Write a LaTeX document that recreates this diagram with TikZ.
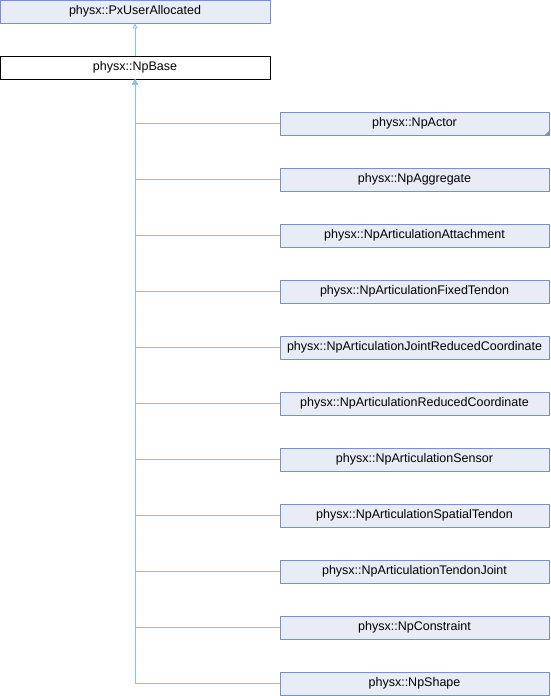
\documentclass[tikz,border=0pt]{standalone}
\usepackage{fontspec}
\setmainfont{Liberation Sans}
\usetikzlibrary{arrows.meta}
\usetikzlibrary{positioning}
\definecolor{clsfill}{HTML}{E8ECF5}
\definecolor{clsdraw}{HTML}{7C90C8}
\definecolor{inhline}{HTML}{88C2EA}

\begin{document}
\begin{tikzpicture}[x=1pt,y=-1pt,
    cls/.style={draw=clsdraw, fill=clsfill, line width=0.9pt, rectangle,
      inner sep=0pt, minimum height=23pt, font=\fontsize{12.5}{14}\selectfont},
    wide/.style={minimum width=270pt},
    child/.style={minimum width=269pt},
    current/.style={draw=black, fill=white},
    inh/.style={draw=inhline, line width=0.9pt,
      -{Triangle[open,length=5pt,width=5pt]}},
  ]
  \useasboundingbox (0,0) rectangle (550,696);

  \node (alloc) [cls,wide] at (135,11.5) {physx::PxUserAllocated};
  \node (base) [cls,wide,current] at (135,67.5) {physx::NpBase};
  \draw[inh] (base.north) -- (alloc.south);

  % derived classes
  \foreach \name [count=\i] in {NpActor,NpAggregate,NpArticulationAttachment,
      NpArticulationFixedTendon,NpArticulationJointReducedCoordinate,
      NpArticulationReducedCoordinate,NpArticulationSensor,
      NpArticulationSpatialTendon,NpArticulationTendonJoint,
      NpConstraint,NpShape} {
    \node (c\i) [cls,child] at (414.5,{123.5+56*(\i-1)}) {physx::\name};
    \draw[inh] (c\i.west) -| (base.south);
  }
  % more derived classes below NpActor
  \fill[clsdraw] (c1.south east) -- ++(0,-5) -- ++(-5,5) -- cycle;
\end{tikzpicture}
\end{document}
